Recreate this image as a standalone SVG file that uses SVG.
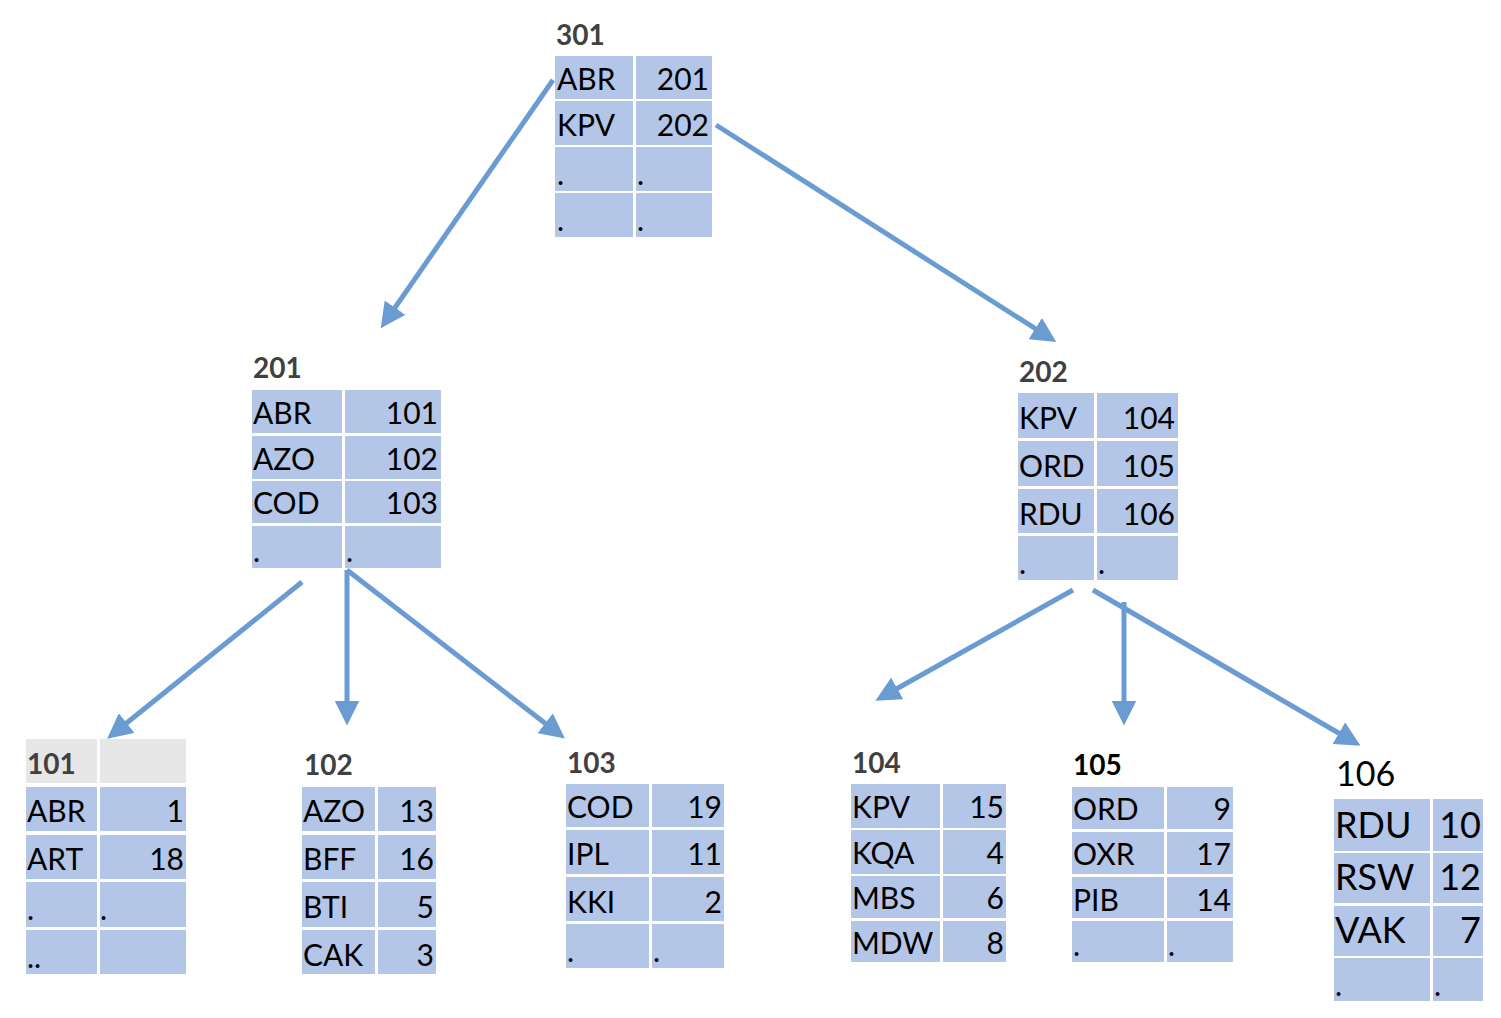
<svg xmlns="http://www.w3.org/2000/svg" width="1501" height="1018" viewBox="0 0 1501 1018">
<defs>
<style>
.c{fill:#B4C6E7}
.g{fill:#E7E7E7}
text{font-family:Lato,"Open Sans","Liberation Sans",sans-serif;fill:#000}
.t{font-size:30px}
.h{font-size:28px;font-weight:bold;fill:#404040}
.r{text-anchor:end}
.e{stroke:#6A9BD1;stroke-width:5;fill:none;marker-end:url(#a)}
</style>
<marker id="a" viewBox="0 0 10 10" refX="7" refY="5" markerWidth="5" markerHeight="5" orient="auto" markerUnits="strokeWidth"><path d="M0,0L10,5L0,10z" fill="#6A9BD1"/></marker>
</defs>
<rect width="1501" height="1018" fill="#fff"/>
<g id="connectors">
<line class="e" x1="553" y1="80" x2="385" y2="322"/>
<line class="e" x1="716" y1="125" x2="1050" y2="338"/>
<line class="e" x1="302" y1="582" x2="113" y2="734"/>
<line class="e" x1="347" y1="570" x2="347" y2="718"/>
<line class="e" x1="347" y1="570" x2="559" y2="734"/>
<line class="e" x1="1073" y1="590" x2="882" y2="697"/>
<line class="e" x1="1124" y1="602" x2="1124" y2="718"/>
<line class="e" x1="1093" y1="590" x2="1354" y2="742"/>
</g>
<g id="n301">
<text class="h" x="556" y="45">301</text>
<rect class="c" x="555" y="56" width="78" height="43"/><rect class="c" x="636" y="56" width="76" height="43"/>
<rect class="c" x="555" y="101" width="78" height="44"/><rect class="c" x="636" y="101" width="76" height="44"/>
<rect class="c" x="555" y="147" width="78" height="44"/><rect class="c" x="636" y="147" width="76" height="44"/>
<rect class="c" x="555" y="193" width="78" height="44"/><rect class="c" x="636" y="193" width="76" height="44"/>
<text class="t" x="557" y="90">ABR</text><text class="t r" x="709" y="90">201</text>
<text class="t" x="557" y="136">KPV</text><text class="t r" x="709" y="136">202</text>
<text class="t" x="557" y="185">.</text><text class="t" x="637" y="185">.</text>
<text class="t" x="557" y="231">.</text><text class="t" x="637" y="231">.</text>
</g>
<g id="n201">
<text class="h" x="253" y="378">201</text>
<rect class="c" x="252" y="390" width="90" height="43"/><rect class="c" x="345" y="390" width="96" height="43"/>
<rect class="c" x="252" y="436" width="90" height="43"/><rect class="c" x="345" y="436" width="96" height="43"/>
<rect class="c" x="252" y="481" width="90" height="42"/><rect class="c" x="345" y="481" width="96" height="42"/>
<rect class="c" x="252" y="526" width="90" height="42"/><rect class="c" x="345" y="526" width="96" height="42"/>
<text class="t" x="253" y="424">ABR</text><text class="t r" x="438" y="424">101</text>
<text class="t" x="253" y="470">AZO</text><text class="t r" x="438" y="470">102</text>
<text class="t" x="253" y="514">COD</text><text class="t r" x="438" y="514">103</text>
<text class="t" x="253" y="562">.</text><text class="t" x="346" y="562">.</text>
</g>
<g id="n202">
<text class="h" x="1019" y="382">202</text>
<rect class="c" x="1018" y="393" width="76" height="45"/><rect class="c" x="1097" y="393" width="81" height="45"/>
<rect class="c" x="1018" y="441" width="76" height="45"/><rect class="c" x="1097" y="441" width="81" height="45"/>
<rect class="c" x="1018" y="489" width="76" height="44"/><rect class="c" x="1097" y="489" width="81" height="44"/>
<rect class="c" x="1018" y="536" width="76" height="44"/><rect class="c" x="1097" y="536" width="81" height="44"/>
<text class="t" x="1019" y="429">KPV</text><text class="t r" x="1175" y="429">104</text>
<text class="t" x="1019" y="477">ORD</text><text class="t r" x="1175" y="477">105</text>
<text class="t" x="1019" y="525">RDU</text><text class="t r" x="1175" y="525">106</text>
<text class="t" x="1019" y="574">.</text><text class="t" x="1098" y="574">.</text>
</g>
<g id="n101">
<rect class="g" x="26" y="739" width="71" height="44"/><rect class="g" x="100" y="739" width="86" height="44"/>
<text class="h" x="27" y="774">101</text>
<rect class="c" x="26" y="787" width="71" height="44"/><rect class="c" x="100" y="787" width="86" height="44"/>
<rect class="c" x="26" y="835" width="71" height="44"/><rect class="c" x="100" y="835" width="86" height="44"/>
<rect class="c" x="26" y="882" width="71" height="45"/><rect class="c" x="100" y="882" width="86" height="45"/>
<rect class="c" x="26" y="930" width="71" height="44"/><rect class="c" x="100" y="930" width="86" height="44"/>
<text class="t" x="27" y="822">ABR</text><text class="t r" x="184" y="822">1</text>
<text class="t" x="27" y="870">ART</text><text class="t r" x="184" y="870">18</text>
<text class="t" x="27" y="920">.</text><text class="t" x="100" y="920">.</text>
<text class="t" x="27" y="968">..</text>
</g>
<g id="n102">
<text class="h" x="304" y="775">102</text>
<rect class="c" x="302" y="787" width="73" height="44"/><rect class="c" x="378" y="787" width="58" height="44"/>
<rect class="c" x="302" y="835" width="73" height="44"/><rect class="c" x="378" y="835" width="58" height="44"/>
<rect class="c" x="302" y="882" width="73" height="45"/><rect class="c" x="378" y="882" width="58" height="45"/>
<rect class="c" x="302" y="930" width="73" height="44"/><rect class="c" x="378" y="930" width="58" height="44"/>
<text class="t" x="303" y="822">AZO</text><text class="t r" x="434" y="822">13</text>
<text class="t" x="303" y="870">BFF</text><text class="t r" x="434" y="870">16</text>
<text class="t" x="303" y="918">BTI</text><text class="t r" x="434" y="918">5</text>
<text class="t" x="303" y="966">CAK</text><text class="t r" x="434" y="966">3</text>
</g>
<g id="n103">
<text class="h" x="567" y="773">103</text>
<rect class="c" x="566" y="784" width="83" height="43"/><rect class="c" x="652" y="784" width="72" height="43"/>
<rect class="c" x="566" y="830" width="83" height="44"/><rect class="c" x="652" y="830" width="72" height="44"/>
<rect class="c" x="566" y="877" width="83" height="44"/><rect class="c" x="652" y="877" width="72" height="44"/>
<rect class="c" x="566" y="924" width="83" height="44"/><rect class="c" x="652" y="924" width="72" height="44"/>
<text class="t" x="567" y="818">COD</text><text class="t r" x="722" y="818">19</text>
<text class="t" x="567" y="865">IPL</text><text class="t r" x="722" y="865">11</text>
<text class="t" x="567" y="913">KKI</text><text class="t r" x="722" y="913">2</text>
<text class="t" x="567" y="962">.</text><text class="t" x="653" y="962">.</text>
</g>
<g id="n104">
<text class="h" x="852" y="773">104</text>
<rect class="c" x="851" y="784" width="89" height="44"/><rect class="c" x="943" y="784" width="63" height="44"/>
<rect class="c" x="851" y="830" width="89" height="44"/><rect class="c" x="943" y="830" width="63" height="44"/>
<rect class="c" x="851" y="876" width="89" height="42"/><rect class="c" x="943" y="876" width="63" height="42"/>
<rect class="c" x="851" y="921" width="89" height="41"/><rect class="c" x="943" y="921" width="63" height="41"/>
<text class="t" x="852" y="818">KPV</text><text class="t r" x="1004" y="818">15</text>
<text class="t" x="852" y="864">KQA</text><text class="t r" x="1004" y="864">4</text>
<text class="t" x="852" y="909">MBS</text><text class="t r" x="1004" y="909">6</text>
<text class="t" x="852" y="954">MDW</text><text class="t r" x="1004" y="954">8</text>
</g>
<g id="n105">
<text class="h" x="1073" y="775" style="fill:#000">105</text>
<rect class="c" x="1072" y="787" width="92" height="42"/><rect class="c" x="1167" y="787" width="66" height="42"/>
<rect class="c" x="1072" y="832" width="92" height="42"/><rect class="c" x="1167" y="832" width="66" height="42"/>
<rect class="c" x="1072" y="877" width="92" height="41"/><rect class="c" x="1167" y="877" width="66" height="41"/>
<rect class="c" x="1072" y="921" width="92" height="41"/><rect class="c" x="1167" y="921" width="66" height="41"/>
<text class="t" x="1073" y="820">ORD</text><text class="t r" x="1231" y="820">9</text>
<text class="t" x="1073" y="865">OXR</text><text class="t r" x="1231" y="865">17</text>
<text class="t" x="1073" y="911">PIB</text><text class="t r" x="1231" y="911">14</text>
<text class="t" x="1073" y="956">.</text><text class="t" x="1168" y="956">.</text>
</g>
<g id="n106">
<text x="1336" y="786" style="font-size:34px">106</text>
<rect class="c" x="1334" y="799" width="96" height="52"/><rect class="c" x="1433" y="799" width="50" height="52"/>
<rect class="c" x="1334" y="853" width="96" height="50"/><rect class="c" x="1433" y="853" width="50" height="50"/>
<rect class="c" x="1334" y="906" width="96" height="50"/><rect class="c" x="1433" y="906" width="50" height="50"/>
<rect class="c" x="1334" y="958" width="96" height="43"/><rect class="c" x="1433" y="958" width="50" height="43"/>
<text x="1335" y="838" style="font-size:36px">RDU</text><text class="r" x="1481" y="838" style="font-size:36px">10</text>
<text x="1335" y="890" style="font-size:36px">RSW</text><text class="r" x="1481" y="890" style="font-size:36px">12</text>
<text x="1335" y="943" style="font-size:36px">VAK</text><text class="r" x="1481" y="943" style="font-size:36px">7</text>
<text class="t" x="1335" y="996">.</text><text class="t" x="1434" y="996">.</text>
</g>
</svg>
